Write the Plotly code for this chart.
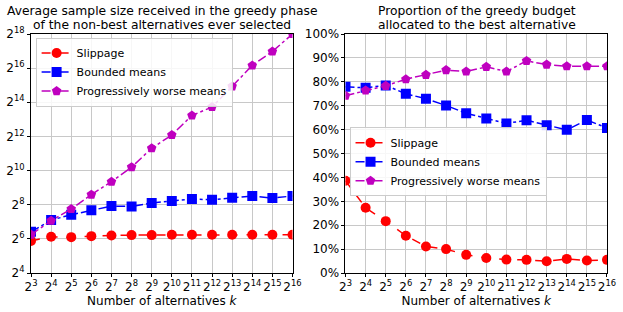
import plotly.graph_objects as go
from plotly.subplots import make_subplots

k_values = [2**e for e in range(3, 17)]
tick_exps = list(range(3, 17))

# Left panel: average sample size (non-best alternatives)
slip_size = [58.9, 69.6, 68.6, 71.5, 73.5, 74.5, 74.5, 75.6, 75.6, 75.6, 75.6, 75.6, 75.6, 75.6]
bounded_size = [85.0, 137.2, 170.1, 203.7, 242.2, 238.9, 274.4, 298.2, 321.8, 313.0, 340.2, 364.6, 335.5, 364.6]
prog_size = [76.1, 133.4, 215.3, 385.3, 652.6, 1176, 2539, 4329, 9609, 13490, 31220, 73210, 129000, 262144]

# Right panel: proportion of greedy budget to best alternative (%)
slip_prop = [38.6, 27.3, 21.7, 15.6, 11.1, 10.0, 7.6, 6.3, 5.6, 5.5, 4.9, 5.9, 5.2, 5.5]
bounded_prop = [77.9, 77.5, 78.5, 75.0, 72.9, 70.1, 66.8, 64.6, 62.6, 63.9, 61.8, 59.9, 64.0, 60.7]
prog_prop = [74.2, 76.4, 78.3, 81.1, 82.9, 84.9, 84.3, 86.25, 84.3, 88.75, 87.2, 86.5, 86.5, 86.5]

left_y_exps = list(range(4, 19, 2))
right_y_ticks = list(range(0, 101, 10))

left_title = ["Average sample size received in the greedy phase",
              "of the non-best alternatives ever selected"]
right_title = ["Proportion of the greedy budget",
               "allocated to the best alternative"]

FONT = "DejaVu Sans"
RED = "#ff0000"
BLUE = "#0000ff"
MAG = "#bf00bf"

fig = make_subplots(rows=1, cols=2, horizontal_spacing=0.092)

series = [
    ("Slippage", RED, "circle", "dash", slip_size, slip_prop),
    ("Bounded means", BLUE, "square", "dashdot", bounded_size, bounded_prop),
    ("Progressively worse means", MAG, "pentagon", "dashdot", prog_size, prog_prop),
]
for name, col, sym, dash, ls, rp in series:
    fig.add_trace(go.Scatter(x=k_values, y=ls, name=name, mode="lines+markers",
                             line=dict(color=col, width=1.5, dash=dash),
                             marker=dict(symbol=sym, size=10, color=col),
                             legend="legend"), row=1, col=1)
    fig.add_trace(go.Scatter(x=k_values, y=rp, name=name, mode="lines+markers",
                             line=dict(color=col, width=1.5, dash=dash),
                             marker=dict(symbol=sym, size=10, color=col),
                             legend="legend2"), row=1, col=2)

xticktext = [f"2<sup>{e}</sup>" for e in tick_exps]
axis_common = dict(showline=True, linecolor="black", linewidth=1, mirror=True,
                   showgrid=True, gridcolor="#c8c8c8", gridwidth=1,
                   ticks="outside", ticklen=3, tickcolor="black", automargin=False,
                   tickfont=dict(family=FONT, size=12, color="black"), zeroline=False)

for c in (1, 2):
    fig.update_xaxes(type="log", range=[0.90309, 4.81648],
                     tickvals=k_values, ticktext=xticktext, tickangle=0,
                     title=dict(text="Number of alternatives <i>k</i>", standoff=1,
                                font=dict(family=FONT, size=12, color="black")),
                     row=1, col=c, **axis_common)

fig.update_yaxes(type="log", range=[1.20412, 5.41854],
                 tickvals=[2**e for e in left_y_exps],
                 ticktext=[f"2<sup>{e}</sup>" for e in left_y_exps],
                 row=1, col=1, **axis_common)
fig.update_yaxes(range=[0, 100], tickvals=right_y_ticks,
                 ticktext=[f"{v}%" for v in right_y_ticks],
                 row=1, col=2, **axis_common)

legend_style = dict(bgcolor="rgba(255,255,255,0.85)", bordercolor="#cccccc", borderwidth=1,
                    font=dict(family=FONT, size=11, color="black"),
                    tracegroupgap=0, itemwidth=30)

annotations = []
for xc, lines in ((0.2275, left_title), (0.7735, right_title)):
    for yp, txt in zip((1.0962, 1.0377), lines):
        annotations.append(dict(text=txt, x=xc, y=yp, xref="paper", yref="paper",
                                xanchor="center", yanchor="middle", showarrow=False,
                                font=dict(family=FONT, size=12.3, color="black")))

fig.update_layout(
    width=623, height=312,
    margin=dict(l=31, r=16, t=34, b=39),
    plot_bgcolor="white", paper_bgcolor="white",
    font=dict(family=FONT, color="black"),
    legend=dict(x=0.008, y=0.985, xanchor="left", yanchor="top", **legend_style),
    legend2=dict(x=0.553, y=0.61, xanchor="left", yanchor="top", **legend_style),
    annotations=annotations,
)

fig.write_html("out.html", config={"displayModeBar": False},
               post_script="document.body.style.margin='0';document.body.style.overflow='hidden';")
